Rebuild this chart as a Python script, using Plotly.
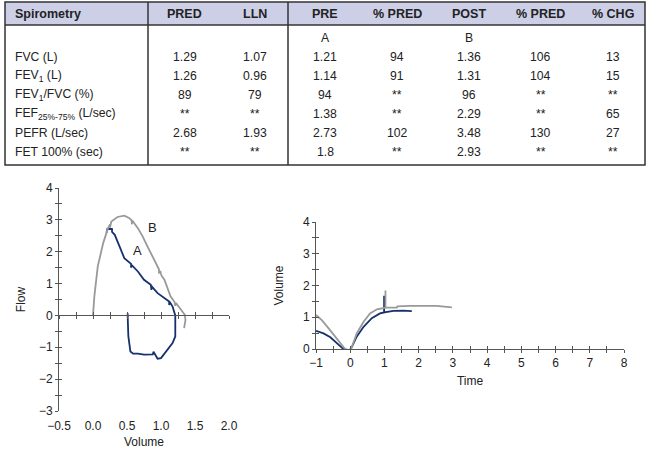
import numpy as np
import plotly.graph_objects as go

# ---------------- table data ----------------
headers = ["Spirometry", "PRED", "LLN", "PRE", "% PRED", "POST", "% PRED", "% CHG"]
row_labels = ["", "FVC (L)", "FEV<sub>1</sub> (L)", "FEV<sub>1</sub>/FVC (%)",
              "FEF<sub>25%-75%</sub> (L/sec)", "PEFR (L/sec)", "FET 100% (sec)"]
pred = ["", "1.29", "1.26", "89", "**", "2.68", "**"]
lln = ["", "1.07", "0.96", "79", "**", "1.93", "**"]
pre = ["A", "1.21", "1.14", "94", "1.38", "2.73", "1.8"]
pre_pct = ["", "94", "91", "**", "**", "102", "**"]
post = ["B", "1.36", "1.31", "96", "2.29", "3.48", "2.93"]
post_pct = ["", "106", "104", "**", "**", "130", "**"]
chg = ["", "13", "15", "**", "65", "27", "**"]

# ---------------- flow-volume loop ----------------
pre_fv_vol = [0.20, 0.21, 0.25, 0.28, 0.28, 0.32, 0.39, 0.46, 0.56, 0.56, 0.57, 0.66, 0.75,
              0.85, 0.86, 0.86, 0.95, 1.05, 1.12, 1.12, 1.13, 1.17, 1.21,
              1.21, 1.21, 1.17, 1.09, 1.00, 0.95, 0.91, 0.89, 0.88, 0.85, 0.75, 0.66,
              0.59, 0.55, 0.53, 0.52, 0.51, 0.51]
pre_fv_flow = [2.60, 2.71, 2.72, 2.71, 2.62, 2.53, 2.17, 1.80, 1.62, 1.50, 1.58, 1.38, 1.12,
               0.96, 0.80, 0.92, 0.70, 0.55, 0.44, 0.33, 0.42, 0.28, 0.00,
               -0.30, -0.66, -0.87, -1.08, -1.34, -1.36, -1.24, -1.14, -1.22, -1.22, -1.23, -1.20,
               -1.20, -1.13, -0.76, -0.66, -0.03, 0.07]
post_fv_vol = [0.00, 0.02, 0.07, 0.15, 0.22, 0.25, 0.25, 0.27, 0.36, 0.46, 0.53, 0.57, 0.57,
               0.58, 0.66, 0.73, 0.80, 0.88, 0.95, 0.97, 0.97, 0.99, 1.00, 1.01, 1.05, 1.09,
               1.14, 1.20, 1.21, 1.22, 1.29, 1.35, 1.36, 1.34]
post_fv_flow = [0.00, 0.60, 1.54, 2.27, 2.74, 2.86, 2.76, 2.95, 3.09, 3.13, 3.06, 2.98, 2.86,
                2.97, 2.74, 2.48, 2.17, 1.85, 1.54, 1.45, 1.32, 1.40, 1.30, 1.24, 1.12, 0.86,
                0.60, 0.42, 0.30, 0.39, 0.18, 0.02, -0.14, -0.40]

# ---------------- volume-time ----------------
pre_vt_time = [-1.0, -0.78, -0.58, -0.39, -0.22, -0.10, 0.0, 0.05, 0.19, 0.39, 0.63, 0.87,
               0.99, 0.99, 0.99, 1.26, 1.55, 1.80]
pre_vt_vol = [0.57, 0.49, 0.37, 0.18, 0.02, -0.03, -0.02, 0.07, 0.39, 0.70, 0.97, 1.12,
              1.15, 1.68, 1.15, 1.20, 1.21, 1.19]
post_vt_time = [-1.0, -0.83, -0.63, -0.44, -0.24, -0.15, -0.08, 0.0, 0.05, 0.19, 0.39, 0.58,
                0.78, 0.97, 1.03, 1.03, 1.03, 1.36, 1.38, 1.75, 2.53, 2.97]
post_vt_vol = [1.07, 0.91, 0.65, 0.39, 0.13, 0.00, -0.03, -0.03, 0.07, 0.49, 0.86, 1.12,
               1.25, 1.30, 1.30, 1.84, 1.30, 1.30, 1.34, 1.36, 1.36, 1.31]

FONT = "Liberation Sans, Arial, sans-serif"
TXT = "#222222"
AX = "#555555"
BLUE = "#17306f"
GRAY = "#999999"
W, H = 650, 450


def px(x):
    return x / W


def py(y):
    return 1 - y / H


fig = go.Figure()

# ---- left chart ----
fig.add_trace(go.Scatter(x=pre_fv_vol, y=pre_fv_flow, mode="lines",
                         line=dict(color=BLUE, width=1.8), xaxis="x", yaxis="y",
                         showlegend=False, hoverinfo="skip"))
fig.add_trace(go.Scatter(x=post_fv_vol, y=post_fv_flow, mode="lines",
                         line=dict(color=GRAY, width=1.8), xaxis="x", yaxis="y",
                         showlegend=False, hoverinfo="skip"))
for xa, ya in [("x3", "y"), ("x4", "y"), ("x", "y3"), ("x5", "y2"), ("x2", "y4")]:
    fig.add_trace(go.Scatter(x=[None], y=[None], xaxis=xa, yaxis=ya,
                             showlegend=False, hoverinfo="skip"))

# ---- right chart ----
fig.add_trace(go.Scatter(x=pre_vt_time, y=pre_vt_vol, mode="lines",
                         line=dict(color=BLUE, width=1.8), xaxis="x2", yaxis="y2",
                         showlegend=False, hoverinfo="skip"))
fig.add_trace(go.Scatter(x=post_vt_time, y=post_vt_vol, mode="lines",
                         line=dict(color=GRAY, width=1.8), xaxis="x2", yaxis="y2",
                         showlegend=False, hoverinfo="skip"))

DX1 = [px(59), px(229)]
DY1 = [py(411), py(188)]
DX2 = [px(316), px(624)]
DY2 = [py(349), py(222)]
XR1 = [-0.5, 2.0]
YR1 = [-3, 4]
XR2 = [-1, 8]
YR2 = [0, 4]
zero_pos = DY1[0] + (0 - YR1[0]) / (YR1[1] - YR1[0]) * (DY1[1] - DY1[0])

tickfont = dict(family=FONT, size=12, color=TXT)
common = dict(showgrid=False, zeroline=False, linecolor=AX, linewidth=1,
              tickcolor=AX, tickwidth=1, fixedrange=True, automargin=False)

fig.update_layout(
    width=W, height=H, margin=dict(l=0, r=0, t=0, b=0, autoexpand=False),
    paper_bgcolor="white", plot_bgcolor="rgba(0,0,0,0)",
    font=dict(family=FONT, size=12, color=TXT),
    xaxis=dict(domain=DX1, range=XR1, anchor="y", showline=False, ticks="",
               tickvals=list(np.arange(-0.5, 2.01, 0.5)), tickformat=".1f",
               ticklabelstandoff=6,
               tickfont=tickfont, title=dict(text="Volume", font=tickfont, standoff=5),
               **{k: v for k, v in common.items() if k != "linecolor"}),
    xaxis3=dict(domain=DX1, range=XR1, overlaying="x", anchor="free", position=zero_pos,
                showline=True, ticks="outside", ticklen=3, tickmode="linear", tick0=-0.5,
                dtick=0.25, showticklabels=False, **common),
    xaxis4=dict(domain=DX1, range=XR1, overlaying="x", anchor="free", position=zero_pos,
                showline=False, ticks="inside", ticklen=3, tickmode="linear", tick0=-0.5,
                dtick=0.25, showticklabels=False, **common),
    yaxis=dict(domain=DY1, range=YR1, anchor="x", showline=True, ticks="outside", ticklen=3,
               dtick=1, minor=dict(ticks="outside", ticklen=3, dtick=0.5, tickcolor=AX),
               tickfont=tickfont, title=dict(text="Flow", font=tickfont, standoff=10),
               **common),
    yaxis3=dict(domain=DY1, range=YR1, overlaying="y", anchor="x", side="left",
                showline=False, ticks="inside", ticklen=3, dtick=0.5,
                showticklabels=False, **common),
    xaxis2=dict(domain=DX2, range=XR2, anchor="y2", showline=True, ticks="outside", ticklen=3,
                dtick=1, minor=dict(ticks="outside", ticklen=3, dtick=0.5, tickcolor=AX),
                tickfont=tickfont, title=dict(text="Time", font=tickfont, standoff=7),
                **common),
    xaxis5=dict(domain=DX2, range=XR2, overlaying="x2", anchor="y2", showline=False,
                ticks="inside", ticklen=3, dtick=0.5, showticklabels=False, **common),
    yaxis2=dict(domain=DY2, range=YR2, anchor="x2", showline=True, ticks="outside", ticklen=3,
                dtick=1, minor=dict(ticks="outside", ticklen=3, dtick=0.5, tickcolor=AX),
                tickfont=tickfont, title=dict(text="Volume", font=tickfont, standoff=16),
                **common),
    yaxis4=dict(domain=DY2, range=YR2, overlaying="y2", anchor="x2", side="left",
                showline=False, ticks="inside", ticklen=3, dtick=0.5,
                showticklabels=False, **common),
)

annotations = [
    dict(x=0.66, y=2.03, xref="x", yref="y", text="A", showarrow=False,
         font=dict(family=FONT, size=13, color=TXT)),
    dict(x=0.87, y=2.77, xref="x", yref="y", text="B", showarrow=False,
         font=dict(family=FONT, size=13, color=TXT)),
]

# ---- table (text as annotations, layout computed from column widths) ----
tbl_left, tbl_right, tbl_top, tbl_bottom = 5, 645, 2, 165
header_h = 23
row_h = 19
first_row_center = 38
col_widths = [143, 70, 70, 71.8, 71.8, 71.8, 71.8, 71.8]
edges = np.concatenate([[tbl_left], tbl_left + np.cumsum(col_widths)])
columns = [row_labels, pred, lln, pre, pre_pct, post, post_pct, chg]
cell_font = dict(family=FONT, size=12.2, color=TXT)
head_font = dict(family=FONT, size=12.5, color=TXT)
for ci, (h, col) in enumerate(zip(headers, columns)):
    if ci == 0:
        xpos, xanc = edges[0] + 8, "left"
    else:
        xpos, xanc = (edges[ci] + edges[ci + 1]) / 2 + 1.5, "center"
    annotations.append(dict(x=px(xpos), y=py(tbl_top + header_h / 2 + 0.5), xref="paper",
                            yref="paper", text="<b>%s</b>" % h, showarrow=False,
                            xanchor=xanc, yanchor="middle", font=head_font))
    for ri, val in enumerate(col):
        if val == "":
            continue
        annotations.append(dict(x=px(xpos), y=py(first_row_center + ri * row_h),
                                xref="paper", yref="paper", text=val, showarrow=False,
                                xanchor=xanc, yanchor="middle", font=cell_font))
fig.update_layout(annotations=annotations)

border = dict(color="#333333", width=1.5)
shapes = [
    dict(type="rect", xref="paper", yref="paper", x0=px(tbl_left), x1=px(tbl_right),
         y0=py(tbl_top + header_h), y1=py(tbl_top), line=dict(width=0),
         fillcolor="#cdcfe7", layer="below"),
    dict(type="rect", xref="paper", yref="paper", x0=px(tbl_left), x1=px(tbl_right),
         y0=py(tbl_bottom), y1=py(tbl_top), line=border),
    dict(type="line", xref="paper", yref="paper", x0=px(tbl_left), x1=px(tbl_right),
         y0=py(tbl_top + header_h), y1=py(tbl_top + header_h), line=border),
    dict(type="line", xref="paper", yref="paper", x0=px(edges[1]), x1=px(edges[1]),
         y0=py(tbl_bottom), y1=py(tbl_top), line=border),
    dict(type="line", xref="paper", yref="paper", x0=px(edges[3]), x1=px(edges[3]),
         y0=py(tbl_bottom), y1=py(tbl_top), line=border),
]
fig.update_layout(shapes=shapes)

fig.write_html("out.html", config={"displayModeBar": False, "staticPlot": True},
               post_script="document.body.style.margin='0px';")
